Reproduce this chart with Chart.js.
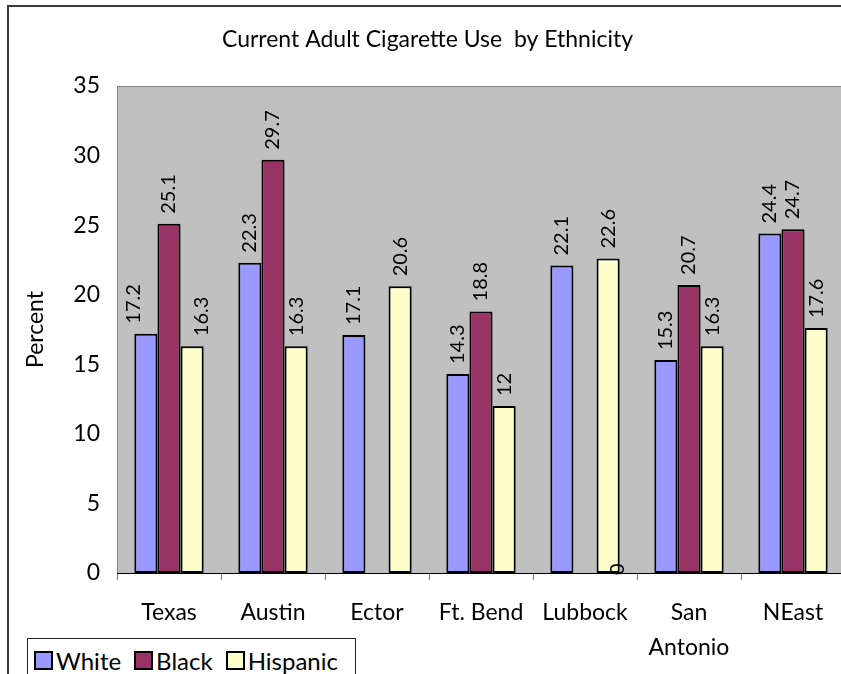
<!DOCTYPE html>
<html>
<head>
<meta charset="utf-8">
<script src="https://cdn.jsdelivr.net/npm/chart.js@4.4.1/dist/chart.umd.min.js"></script>
<style>
  html, body { margin: 0; padding: 0; background: #fff; overflow: hidden; }
  #page { position: relative; width: 841px; height: 674px; overflow: hidden; }
  #frame { position: absolute; left: 7px; top: 5px; width: 834px; height: 669px;
           border-top: 2px solid #3a3a3a; border-left: 2px solid #3a3a3a; box-sizing: border-box; }
  #wrap { position: absolute; left: 0; top: 0; width: 845px; height: 674px; }
  #legend { position: absolute; left: 27px; top: 638px; width: 329px; height: 36px;
            border-top: 1px solid #222; border-left: 1px solid #222; border-right: 1px solid #222;
            box-sizing: border-box; background: #fff; font-family: Lato, sans-serif; font-size: 24px; color: #000;
            display: flex; align-items: flex-start; padding-top: 7px; padding-left: 6px; }
  .item { display: flex; align-items: center; margin-right: 13px; }
  .sw { width: 15px; height: 15px; border: 2px solid #000; margin-right: 3px; }
</style>
</head>
<body>
<div id="page">
  <div id="frame"></div>
  <div id="wrap"><canvas id="c" width="845" height="674"></canvas></div>
  <div id="legend"></div>
</div>
<script>
// Current adult cigarette use (%) by ethnicity and area
const categories = ["Texas", "Austin", "Ector", "Ft. Bend", "Lubbock", ["San", "Antonio"], "NEast"];
const white    = [17.2, 22.3, 17.1, 14.3, 22.1, 15.3, 24.4];
const black    = [25.1, 29.7, null, 18.8, 0, 20.7, 24.7];
const hispanic = [16.3, 16.3, 20.6, 12, 22.6, 16.3, 17.6];
const yTicks   = [0, 5, 10, 15, 20, 25, 30, 35];

const seriesNames = ["White", "Black", "Hispanic"];
const fills = ["#9999FF", "#993366", "#FFFFCC"];
const FONT = "Lato, 'Liberation Sans', sans-serif";

// grey plot area with a thin frame
const plotArea = {
  id: 'plotArea',
  beforeDatasetsDraw(chart) {
    const { ctx, chartArea: a } = chart;
    ctx.save();
    ctx.fillStyle = '#C0C0C0';
    ctx.fillRect(a.left, a.top, a.right - a.left, a.bottom - a.top);
    ctx.strokeStyle = '#808080';
    ctx.lineWidth = 1;
    ctx.strokeRect(a.left + 0.5, a.top + 0.5, a.right - a.left, a.bottom - a.top);
    ctx.restore();
  },
  afterDatasetsDraw(chart) {
    const { ctx, chartArea: a } = chart;
    ctx.save();
    ctx.strokeStyle = '#000';
    ctx.lineWidth = 1;
    ctx.beginPath();
    ctx.moveTo(a.left, a.bottom + 0.5);
    ctx.lineTo(a.right, a.bottom + 0.5);
    ctx.stroke();
    ctx.restore();
  }
};

// vertical value labels above each bar
const valueLabels = {
  id: 'valueLabels',
  afterDatasetsDraw(chart, args, opts) {
    const { ctx } = chart;
    ctx.save();
    ctx.font = opts.font;
    ctx.fillStyle = '#000';
    ctx.textAlign = 'left';
    ctx.textBaseline = 'middle';
    chart.data.datasets.forEach((ds, di) => {
      chart.getDatasetMeta(di).data.forEach((el, i) => {
        const v = ds.data[i];
        if (v === null || v === undefined) return;
        const nudge = opts.nudges[di + ',' + i] || [0, 0];
        ctx.save();
        ctx.translate(el.x + nudge[0], el.y - opts.gap + nudge[1]);
        ctx.rotate(-Math.PI / 2);
        ctx.fillText(String(v), 0, 0);
        ctx.restore();
      });
    });
    ctx.restore();
  }
};

new Chart(document.getElementById('c'), {
  type: 'bar',
  data: {
    labels: categories,
    datasets: [white, black, hispanic].map((d, k) => ({
      label: seriesNames[k],
      data: d,
      backgroundColor: fills[k],
      borderColor: '#000',
      borderWidth: 2,
      borderSkipped: false,
      categoryPercentage: 0.667,
      barPercentage: 1.0
    }))
  },
  options: {
    responsive: false,
    animation: false,
    layout: { padding: { left: 10, right: 0, top: 0, bottom: 0 } },
    plugins: {
      legend: { display: false },
      tooltip: { enabled: false },
      title: {
        display: true,
        text: 'Current Adult Cigarette Use  by Ethnicity',
        color: '#000',
        font: { family: FONT, size: 23, weight: 'normal', lineHeight: 1.2 },
        padding: { top: 26, bottom: 32.4 }
      },
      valueLabels: {
        font: '20px ' + FONT,
        gap: 10,
        nudges: { '0,0': [-12, 0], '2,0': [9, 0], '1,4': [33, 12] }
      }
    },
    scales: {
      x: {
        grid: { display: true, drawOnChartArea: false, drawTicks: true, tickLength: 7, color: '#808080', offset: true },
        border: { display: false },
        ticks: { color: '#000', font: { family: FONT, size: 23, lineHeight: 1.52 }, padding: 15.5, maxRotation: 0, autoSkip: false },
        afterFit(scale) { scale.height = 101; }
      },
      y: {
        min: 0, max: 35,
        afterBuildTicks(scale) { scale.ticks = yTicks.map(v => ({ value: v })); },
        grid: { display: false, drawTicks: false },
        border: { display: false },
        ticks: { color: '#000', font: { family: FONT, size: 23 }, padding: 17 },
        title: { display: true, text: 'Percent', color: '#000', font: { family: FONT, size: 23 }, padding: { top: 12, bottom: 0 } },
        afterFit(scale) { scale.width = 107; }
      }
    }
  },
  plugins: [plotArea, valueLabels]
});

// legend row
const legend = document.getElementById('legend');
seriesNames.forEach((n, k) => {
  const it = document.createElement('div');
  it.className = 'item';
  const sw = document.createElement('span');
  sw.className = 'sw';
  sw.style.background = fills[k];
  const tx = document.createElement('span');
  tx.textContent = n;
  it.appendChild(sw);
  it.appendChild(tx);
  legend.appendChild(it);
});
</script>
</body>
</html>
